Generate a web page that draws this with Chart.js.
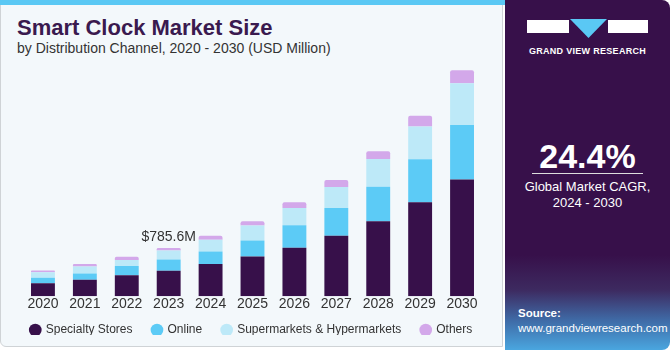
<!DOCTYPE html>
<html>
<head>
<meta charset="utf-8">
<script src="https://cdn.jsdelivr.net/npm/chart.js@4"></script>
<style>
  body { margin: 0; width: 670px; height: 350px; overflow: hidden; background: #fff; font-family: "Liberation Sans", Arial, sans-serif; }
  #wrap { position: relative; width: 670px; height: 350px; }
  #left { position: absolute; left: 0; top: 0; width: 503px; height: 347px; background: #f3f8fb; border: 1px solid #cfd3d6; border-radius: 0 0 0 6px; box-sizing: border-box; }
  #stripe { position: absolute; left: 0; top: 0; width: 506px; height: 5px; background: #5ac8f4; }
  #title { position: absolute; left: 17px; top: 15px; font-size: 22px; font-weight: bold; color: #3a1a4f; }
  #sub { position: absolute; left: 17px; top: 40px; font-size: 14px; color: #333; }
  #right { position: absolute; left: 505px; top: 0; width: 165px; height: 350px; border-radius: 0 8px 8px 0;
    background: linear-gradient(to bottom, #37104a 0px, #37104a 255px, #3d2a60 290px, #3f6aa6 320px, #4aa6df 350px); }
  #logo { position: absolute; left: 22px; top: 20px; width: 121px; height: 13px; }
  #logo div { position: absolute; top: 0; height: 13px; background: #fff; }
  #gvr { position: absolute; left: 0; top: 46px; width: 165px; text-align: center; color: #fff; font-size: 9px; font-weight: bold; letter-spacing: 0.3px; }
  #cagr { position: absolute; left: 0; top: 137px; width: 165px; text-align: center; color: #fff; font-size: 34px; font-weight: bold; }
  #line { position: absolute; left: 27px; top: 173px; width: 111px; height: 1px; background: #ddd; }
  #cagrtxt { position: absolute; left: 0; top: 179px; width: 165px; text-align: center; color: #fff; font-size: 13px; line-height: 16px; }
  #src { position: absolute; left: 13px; top: 306px; color: #fff; font-size: 11.5px; line-height: 15px; }
  canvas { position: absolute; left: 0; top: 0; }
</style>
</head>
<body>
<div id="wrap">
  <div id="left"></div>
  <div id="stripe"></div>
  <div id="title">Smart Clock Market Size</div>
  <div id="sub">by Distribution Channel, 2020 - 2030 (USD Million)</div>
  <div id="chartbox" style="position:absolute;left:0;top:0;width:503px;height:350px;">
    <canvas id="myChart"></canvas>
  </div>
  <div id="right">
    <div id="logo">
      <div style="left:0;width:42px;"></div>
      <div style="left:81px;width:40px;"></div>
      <svg style="position:absolute;left:43px;top:-1px" width="37" height="20"><polygon points="0,0 37,0 18.5,19" fill="#5ac8f4"/></svg>
    </div>
    <div id="gvr">GRAND VIEW RESEARCH</div>
    <div id="cagr">24.4%</div>
    <div id="line"></div>
    <div id="cagrtxt">Global Market CAGR,<br>2024 - 2030</div>
    <div id="src"><b>Source:</b><br>www.grandviewresearch.com</div>
  </div>
</div>
<script>
const years = ["2020", "2021", "2022", "2023", "2024", "2025", "2026", "2027", "2028", "2029", "2030"];
const specialty = [209, 268, 341, 412, 522, 647, 786, 983, 1219, 1527, 1894];
const online = [92, 99, 148, 186, 203, 259, 367, 450, 560, 697, 889];
const supermarkets = [89, 115, 99, 143, 193, 242, 280, 341, 450, 532, 675];
const others = [26, 40, 54, 44, 66, 71, 94, 115, 127, 176, 214];
const noteYear = "2023";
const noteText = "$785.6M";

const ctx = document.getElementById("myChart");

const notePlugin = {
  id: "note",
  afterDatasetsDraw(chart) {
    const i = years.indexOf(noteYear);
    let total = specialty[i] + online[i] + supermarkets[i] + others[i];
    const x = chart.scales.x.getPixelForValue(i);
    const y = chart.scales.y.getPixelForValue(total);
    const c = chart.ctx;
    c.save();
    c.font = "14px 'Liberation Sans', Arial, sans-serif";
    c.fillStyle = "#333";
    c.textAlign = "center";
    c.textBaseline = "bottom";
    c.fillText(noteText, x, y - 4);
    c.restore();
  },
};

// legend keeps 20px between items but takes less room above it
const tightLegend = {
  id: "tightLegend",
  afterInit(chart) {
    const lg = chart.legend;
    const fit = lg.fit.bind(lg);
    lg.fit = function () {
      fit();
      this.height -= 11;
    };
  },
  afterLayout(chart) {
    chart.legend.top -= 9;
    chart.legend.bottom -= 9;
  },
};

// empty side axes only keep room left/right of the bars
const sideAxis = (pos, w) => ({
  position: pos,
  grid: { display: false },
  border: { display: false },
  ticks: { display: false },
  afterFit: (s) => { s.width = w; },
});

new Chart(ctx, {
  type: "bar",
  data: {
    labels: years,
    datasets: [
      { label: "Specialty Stores", data: specialty, backgroundColor: "#37104a" },
      { label: "Online", data: online, backgroundColor: "#5ccbf6" },
      { label: "Supermarkets & Hypermarkets", data: supermarkets, backgroundColor: "#bde9f8" },
      { label: "Others", data: others, backgroundColor: "#d3a8ea", borderRadius: { topLeft: 2, topRight: 2 } },
    ],
  },
  options: {
    responsive: true,
    maintainAspectRatio: false,
    animation: false,
    barPercentage: 0.57,
    categoryPercentage: 1,
    layout: { padding: { left: 0, right: 0, top: 50, bottom: 6 } },
    scales: {
      x: {
        stacked: true,
        grid: { display: false, drawTicks: false },
        border: { display: false },
        ticks: { color: "#333", padding: 0, font: { family: "'Liberation Sans', Arial, sans-serif", size: 14 } },
      },
      y: {
        stacked: true,
        min: 0,
        max: 4000,
        ...sideAxis("left", 22),
      },
      yr: sideAxis("right", 20),
    },
    plugins: {
      tooltip: { enabled: false },
      legend: {
        position: "bottom",
        labels: {
          usePointStyle: true,
          pointStyle: "circle",
          boxWidth: 9,
          boxHeight: 9,
          padding: 20,
          color: "#333",
          font: { family: "'Liberation Sans', Arial, sans-serif", size: 12 },
        },
      },
    },
  },
  plugins: [notePlugin, tightLegend],
});
</script>
</body>
</html>
